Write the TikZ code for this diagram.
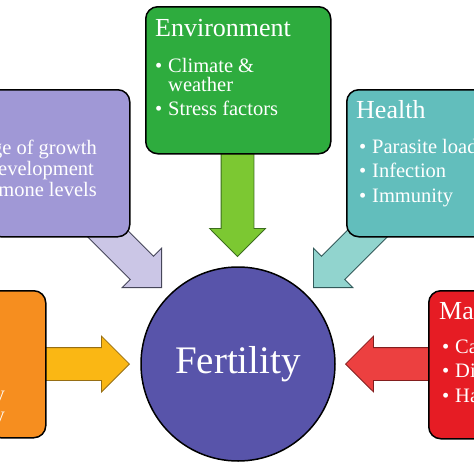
\documentclass[tikz,border=0pt]{standalone}
\usepackage{fontspec}
\setmainfont{Liberation Serif}
\usetikzlibrary{shapes.arrows}
\definecolor{envgreen}{RGB}{46,172,62}
\definecolor{limegreen}{RGB}{124,200,50}
\definecolor{limeedge}{RGB}{60,110,30}
\definecolor{stagelav}{RGB}{160,152,214}
\definecolor{lavarrow}{RGB}{203,198,230}
\definecolor{lavedge}{RGB}{70,70,90}
\definecolor{healthteal}{RGB}{98,190,188}
\definecolor{tealarrow}{RGB}{145,212,206}
\definecolor{tealedge}{RGB}{50,90,90}
\definecolor{groworange}{RGB}{246,142,31}
\definecolor{yelarrow}{RGB}{250,183,20}
\definecolor{yeledge}{RGB}{150,110,20}
\definecolor{manred}{RGB}{230,28,36}
\definecolor{redarrow}{RGB}{236,64,64}
\definecolor{rededge}{RGB}{130,30,30}
\definecolor{fertblue}{RGB}{88,84,170}
\newcommand{\itm}{\makebox[13pt][l]{\textbullet}}

\begin{document}
\begin{tikzpicture}[x=1pt,y=-1pt,
    factor/.style={draw=black,line width=1.5pt,rounded corners=12pt,anchor=north west,inner sep=0pt},
    blockarrow/.style={single arrow,single arrow head extend=11.5pt,inner xsep=0pt,inner ysep=16pt,anchor=tip,line width=0.8pt},
    title/.style={anchor=base west,inner sep=0pt,text=white,font=\fontsize{26}{28}\selectfont},
    items/.style={anchor=base west,inner sep=0pt,text=white,align=left,font=\fontsize{20.5}{19}\selectfont},
    cut/.style={anchor=base east,inner sep=0pt,text=white,font=\fontsize{20.5}{19}\selectfont}]
  \path[use as bounding box,clip] (0,0) rectangle (474,474);

  % arrows towards the centre
  \node[blockarrow,fill=limegreen,draw=limeedge,minimum height=117pt,rotate=-90] (envarr) at (237.5,257) {};
  \node[blockarrow,fill=lavarrow,draw=lavedge,minimum height=95pt,rotate=-45] (stagearr) at (162,288) {};
  \node[blockarrow,fill=tealarrow,draw=tealedge,minimum height=95pt,rotate=-135] (healtharr) at (313,288) {};
  \node[blockarrow,fill=yelarrow,draw=yeledge,minimum height=100pt] (growarr) at (130,364) {};
  \node[blockarrow,fill=redarrow,draw=rededge,minimum height=100pt,rotate=180] (manarr) at (345,364) {};

  % factor boxes
  \node[factor,fill=envgreen,minimum width=185pt,minimum height=147pt] (env) at (145,6) {};
  \node[factor,fill=stagelav,minimum width=141pt,minimum height=147pt] (stage) at (-12,89) {};
  \node[factor,fill=healthteal,minimum width=150pt,minimum height=147pt] (health) at (346,89) {};
  \node[factor,fill=groworange,minimum width=57pt,minimum height=147pt] (grow) at (-12,290) {};
  \node[factor,fill=manred,minimum width=60pt,minimum height=148pt] (man) at (428,290) {};

  \node[circle,draw=black,line width=1.5pt,fill=fertblue,minimum size=194pt,text=white,
        font=\fontsize{39}{42}\selectfont] (fert) at (238,364) {Fertility};

  % box texts (items anchored on their last line)
  \node[title] (envtitle) at (155,36) {Environment};
  \node[items] (envitems) at (155,115) {\itm Climate \&\\\hspace*{13pt}weather\\[5pt]\itm Stress factors};
  \node[title] (healthtitle) at (356,118) {Health};
  \node[items] (healthitems) at (359,202) {\itm Parasite load\\[5.5pt]\itm Infection\\[5.5pt]\itm Immunity};
  \node[title] (mantitle) at (439,319) {Ma};
  \node[items] (manitems) at (442,402) {\itm Ca\\[5.5pt]\itm Di\\[5.5pt]\itm Ha};
  \node[cut] (stageone) at (97,154) {ge of growth};
  \node[cut] (stagetwo) at (94,175) {evelopment};
  \node[cut] (stagethree) at (97,196) {mone levels};
  \node[cut] (growone) at (5,400) {y};
  \node[cut] (growtwo) at (5,421) {y};
\end{tikzpicture}
\end{document}
